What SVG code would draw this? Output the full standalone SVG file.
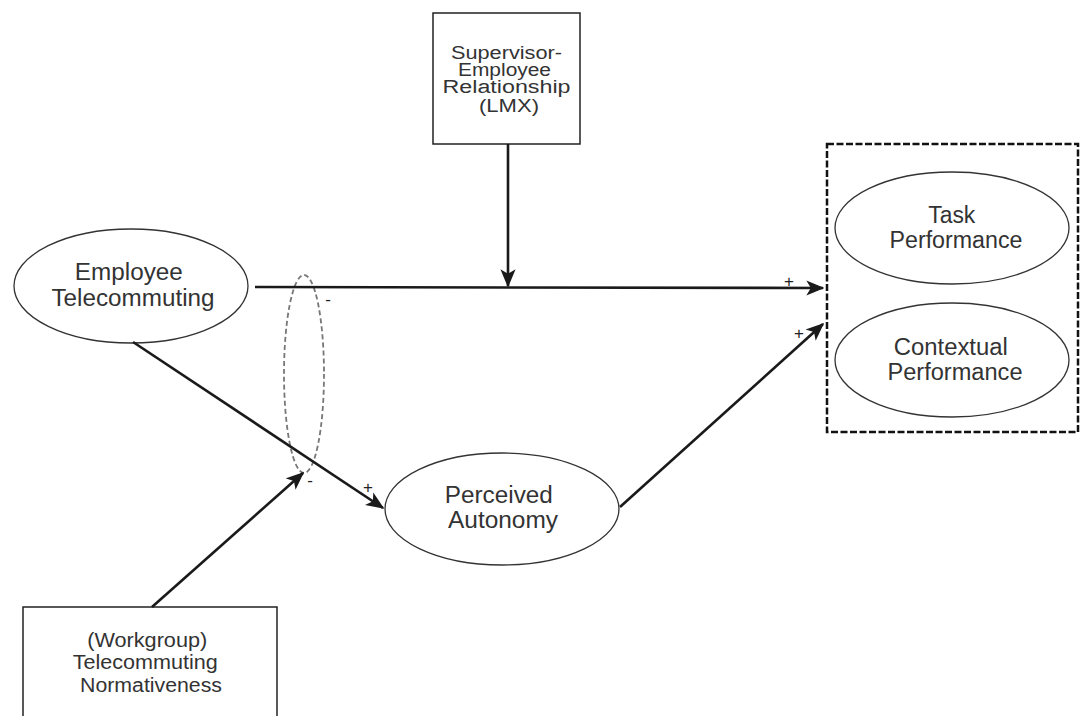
<svg xmlns="http://www.w3.org/2000/svg" width="1086" height="716" viewBox="0 0 1086 716">
<style>
.node{fill:#fff;stroke:#333;stroke-width:1.3}
.box{fill:#fff;stroke:#222;stroke-width:1.5}
.t{font-family:"Liberation Sans",Arial,sans-serif;fill:#333;text-anchor:middle}
.c{stroke:#1a1a1a;stroke-width:2.6;fill:none}
.sign{font-family:"Liberation Sans",Arial,sans-serif;fill:#222;font-size:17px;text-anchor:middle}
</style>
<defs>
<marker id="arr" viewBox="0 0 12 10" refX="11" refY="5" markerWidth="7" markerHeight="6" orient="auto" markerUnits="strokeWidth">
<path d="M0,0 L12,5 L0,10 L3,5 z" fill="#1a1a1a"/>
</marker>
</defs>
<rect width="1086" height="716" fill="#fff"/>

<g id="lmx">
<rect class="box" x="433" y="13" width="147" height="131"/>
<text class="t" font-size="18">
<tspan x="509" y="59" textLength="111" lengthAdjust="spacingAndGlyphs">Supervisor-</tspan>
<tspan x="507" y="76" textLength="93" lengthAdjust="spacingAndGlyphs">Employee</tspan>
<tspan x="509" y="93" textLength="128" lengthAdjust="spacingAndGlyphs">Relationship</tspan>
<tspan x="509" y="112" textLength="60" lengthAdjust="spacingAndGlyphs">(LMX)</tspan>
</text>
</g>

<g id="employee-telecommuting">
<ellipse class="node" cx="131" cy="286" rx="117" ry="57"/>
<text class="t" font-size="23">
<tspan x="132" y="280" textLength="108" lengthAdjust="spacingAndGlyphs">Employee</tspan>
<tspan x="133" y="306" textLength="163" lengthAdjust="spacingAndGlyphs">Telecommuting</tspan>
</text>
</g>

<g id="perceived-autonomy">
<ellipse class="node" cx="502" cy="509" rx="117" ry="56"/>
<text class="t" font-size="23">
<tspan x="502" y="503" textLength="108" lengthAdjust="spacingAndGlyphs">Perceived</tspan>
<tspan x="503" y="528" textLength="110" lengthAdjust="spacingAndGlyphs">Autonomy</tspan>
</text>
</g>

<g id="performance">
<rect x="827" y="144" width="251" height="288" fill="none" stroke="#111" stroke-width="2.5" stroke-dasharray="7,2.5"/>
<g id="task-performance">
<ellipse class="node" cx="952" cy="228" rx="117" ry="56"/>
<text class="t" font-size="23">
<tspan x="955" y="223" textLength="47" lengthAdjust="spacingAndGlyphs">Task</tspan>
<tspan x="956" y="248" textLength="133" lengthAdjust="spacingAndGlyphs">Performance</tspan>
</text>
</g>
<g id="contextual-performance">
<ellipse class="node" cx="952" cy="360" rx="117" ry="57"/>
<text class="t" font-size="23">
<tspan x="954" y="355" textLength="114" lengthAdjust="spacingAndGlyphs">Contextual</tspan>
<tspan x="955" y="380" textLength="135" lengthAdjust="spacingAndGlyphs">Performance</tspan>
</text>
</g>
</g>

<g id="workgroup-normativeness">
<rect class="box" x="23" y="607" width="254" height="120"/>
<text class="t" font-size="20">
<tspan x="150" y="647" textLength="120" lengthAdjust="spacingAndGlyphs">(Workgroup)</tspan>
<tspan x="148" y="669" textLength="145" lengthAdjust="spacingAndGlyphs">Telecommuting</tspan>
<tspan x="151" y="692" textLength="142" lengthAdjust="spacingAndGlyphs">Normativeness</tspan>
</text>
</g>

<g id="moderator">
<ellipse cx="304" cy="374" rx="20" ry="99" fill="none" stroke="#777" stroke-width="1.8" stroke-dasharray="5,3"/>
</g>

<g id="connectors">
<line class="c" x1="255" y1="287" x2="823" y2="288" marker-end="url(#arr)"/>
<line class="c" x1="508" y1="144" x2="508" y2="286" marker-end="url(#arr)"/>
<line class="c" x1="133" y1="342" x2="383" y2="508" marker-end="url(#arr)"/>
<line class="c" x1="620" y1="507" x2="823" y2="324" marker-end="url(#arr)"/>
<line class="c" x1="152" y1="607" x2="303" y2="473" marker-end="url(#arr)"/>
</g>

<g id="signs">
<text class="sign" x="789" y="287">+</text>
<text class="sign" x="799" y="339">+</text>
<text class="sign" x="368" y="493">+</text>
<text class="sign" x="328" y="305" fill="#555">-</text>
<text class="sign" x="310" y="486" fill="#555">-</text>
</g>
</svg>
